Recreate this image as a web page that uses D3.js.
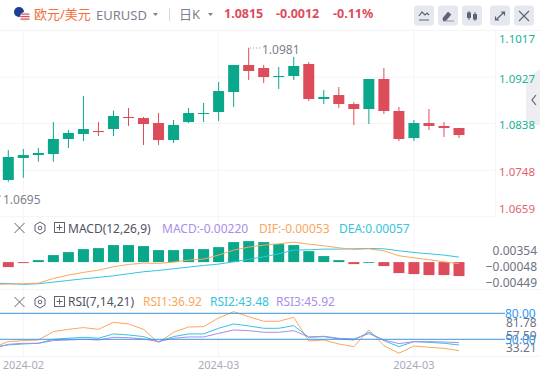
<!DOCTYPE html>
<html>
<head>
<meta charset="utf-8">
<script src="https://cdnjs.cloudflare.com/ajax/libs/d3/7.8.5/d3.min.js"></script>
<style>
html, body { margin: 0; padding: 0; background: #fff; overflow: hidden; }
text { font-family: "Noto Sans", "Noto Sans CJK SC", sans-serif; }
</style>
</head>
<body>
<svg id="chart" width="540" height="375"></svg>
<script>
const opens  = [1.07295,1.07718,1.07775,1.07794,1.08083,1.08179,1.08237,1.08275,1.08506,1.08486,1.08390,1.08063,1.08409,1.08563,1.08602,1.08986,1.09505,1.09447,1.09274,1.09294,1.09524,1.08852,1.08928,1.08755,1.08659,1.09236,1.08621,1.08102,1.08390,1.08333,1.08294];
const highs  = [1.07871,1.07891,1.07910,1.08409,1.08256,1.08909,1.08409,1.08630,1.08679,1.08506,1.08582,1.08448,1.08679,1.08775,1.09178,1.09505,1.09837,1.09505,1.09467,1.09659,1.09563,1.09024,1.09082,1.08794,1.09236,1.09447,1.08698,1.08448,1.08659,1.08409,1.08294];
const lows   = [1.07262,1.07339,1.07646,1.07646,1.07910,1.08044,1.08140,1.08140,1.08333,1.07967,1.07967,1.08006,1.08390,1.08409,1.08429,1.08698,1.09217,1.09159,1.09044,1.09217,1.08813,1.08755,1.08679,1.08352,1.08371,1.08563,1.08044,1.08044,1.08256,1.08121,1.08102];
const closes = [1.07737,1.07775,1.07814,1.08083,1.08198,1.08275,1.08217,1.08525,1.08486,1.08371,1.08063,1.08352,1.08582,1.08582,1.09005,1.09505,1.09390,1.09274,1.09294,1.09486,1.08852,1.08890,1.08755,1.08659,1.09236,1.08621,1.08083,1.08390,1.08333,1.08294,1.08160];

const macdBars = [-0.00125,-0.00025,0.0005,0.00176,0.00251,0.00326,0.00351,0.00427,0.00427,0.00402,0.00301,0.00301,0.00326,0.00326,0.00376,0.00502,0.00527,0.00502,0.00452,0.00427,0.00276,0.00151,0.0005,-0.0005,-0.0002,-0.001,-0.00276,-0.00301,-0.00326,-0.00326,-0.00351];
// line series start one candle left of the visible window
const difLine = [-0.0056,-0.00552,-0.00543,-0.00527,-0.0041,-0.00326,-0.00259,-0.00201,-0.00117,-0.00059,-0.00025,-0.00033,0,0.0005,0.00075,0.00176,0.00301,0.00376,0.00426,0.0046,0.00502,0.00451,0.0041,0.00359,0.00318,0.00334,0.00284,0.00159,0.00109,0.00059,0.00008,-0.00042];
const deaLine = [-0.0053,-0.00535,-0.0056,-0.00543,-0.00502,-0.0046,-0.00418,-0.00385,-0.00343,-0.00293,-0.00242,-0.00209,-0.00167,-0.00125,-0.00084,-0.0005,0.00008,0.00067,0.00134,0.00209,0.00301,0.00309,0.00326,0.00326,0.00334,0.00343,0.00334,0.00284,0.00242,0.00209,0.00176,0.00125];

const rsi1 = [40.8,47.3,48.5,49.2,58.8,61.5,63.5,61.5,69.6,67.7,61.5,46.2,58.1,64.2,64.6,74.6,81.9,76.1,70.8,70.8,75.4,48.1,49.2,44.6,41.5,60.8,42.7,33.9,42.3,40.8,39.6,36.9];
const rsi2 = [40.8,43.5,44.6,45.4,50,51.2,52.3,51.2,56.2,55,53.1,47.3,53.1,56.2,56.2,62.7,67.7,65.4,62.7,62.7,65.8,52.3,53.1,50.4,49.2,58.1,48.5,41.5,47.3,46.5,45.4,43.5];
const rsi3 = [39.6,44.2,45.4,45.4,48.5,49.2,50,49.2,52.3,51.9,50.4,47.3,51.2,52.7,52.7,56.9,60.8,60,58.1,58.1,60,52.7,53.5,51.2,50.4,56.5,49.2,45,47.3,47.3,46.9,46.2];

const priceTicks = [1.1017, 1.0927, 1.0838, 1.0748, 1.0659];
const macdTicks = [0.00354, -0.00048, -0.00449];
const rsiTicks = [81.78, 57.59, 33.21];
const rsiLevels = [80, 50];
const dateTicks = [[1, "2024-02"], [14, "2024-03"], [27, "2024-03"]];

const GREEN = "#0aa78b", RED = "#dd4c5b", GRID = "#f3f4f7";
const ORANGE = "#f9a860", CYAN = "#35c4de", PURPLE = "#a98ee8", BLUE = "#3b96e0", GRAY = "#7c7f8e";
// first and last price labels are pushed inside the panel
const priceLabelShift = [8, 1.5, 1, 1, -8];

const svg = d3.select("#chart");

const x = d3.scaleLinear().domain([0, 30]).range([8.3, 459]);
const yPrice = d3.scaleLinear().domain([1.0659, 1.1017]).range([216.7, 30.4]);
const yMacd = d3.scaleLinear().domain([-0.00449, 0.00354]).range([280, 248]);
const yRsi = d3.scaleLinear().domain([50, 80]).range([339.3, 313.3]);
const yRsiAxis = d3.scaleLinear().domain([33.21, 81.78]).range([348, 323]);

// grid
const grid = svg.append("g").attr("stroke", GRID).attr("stroke-width", 1);
dateTicks.forEach(d => {
    grid.append("line").attr("x1", x(d[0])).attr("x2", x(d[0])).attr("y1", 31).attr("y2", 356);
});
priceTicks.forEach(d => {
    grid.append("line").attr("x1", 0).attr("x2", 495).attr("y1", yPrice(d)).attr("y2", yPrice(d));
});
grid.append("line").attr("x1", 0).attr("x2", 540).attr("y1", 30.5).attr("y2", 30.5);
grid.append("line").attr("x1", 495.5).attr("x2", 495.5).attr("y1", 31).attr("y2", 217);
grid.append("line").attr("x1", 0).attr("x2", 540).attr("y1", 289.5).attr("y2", 289.5);
grid.append("line").attr("x1", 0).attr("x2", 540).attr("y1", 356.5).attr("y2", 356.5);

// side tab
svg.append("path").attr("d", "M540 69l-14 10v46h14z").attr("fill", "#eeeef2");
svg.append("path").attr("d", "M536 95l-4 5 4 5").attr("fill", "none").attr("stroke", "#5f6272").attr("stroke-width", 1.2);

// candles
const candles = svg.append("g");
opens.forEach((o, i) => {
    let c = closes[i];
    let col = c >= o ? GREEN : RED;
    candles.append("line")
        .attr("x1", x(i)).attr("x2", x(i))
        .attr("y1", yPrice(highs[i])).attr("y2", yPrice(lows[i]))
        .attr("stroke", col).attr("stroke-width", 1);
    candles.append("rect")
        .attr("x", x(i) - 5.5).attr("width", 11)
        .attr("y", yPrice(Math.max(o, c)))
        .attr("height", Math.max(1, Math.abs(yPrice(o) - yPrice(c))))
        .attr("fill", col);
});

// price axis
const priceAxis = d3.axisRight(yPrice).tickValues(priceTicks).tickFormat(d3.format(".4f")).tickSize(0);
svg.append("g").attr("transform", "translate(499,0)").call(priceAxis)
    .call(g => g.select(".domain").remove())
    .selectAll("text")
    .attr("x", 0).attr("y", (d, i) => priceLabelShift[i])
    .attr("font-size", 11.5)
    .attr("fill", d => d > 1.08 ? "#1bb199" : "#e2616f");

// high / low markers
svg.append("text").attr("x", 262).attr("y", 54).attr("font-size", 12).attr("fill", GRAY).text("1.0981");
svg.append("line").attr("x1", 250).attr("x2", 260).attr("y1", 48).attr("y2", 48)
    .attr("stroke", "#9a9daa").attr("stroke-dasharray", "1 2");
svg.append("text").attr("x", 3).attr("y", 204).attr("font-size", 12).attr("fill", GRAY).text("1.0695");
svg.append("line").attr("x1", 0).attr("x2", 3).attr("y1", 196).attr("y2", 196)
    .attr("stroke", "#9a9daa").attr("stroke-dasharray", "1 2");

// macd
macdBars.forEach((v, i) => {
    let col = i == 24 ? GREEN : (v >= 0 ? GREEN : RED);
    svg.append("rect")
        .attr("x", x(i) - 5.5).attr("width", 11)
        .attr("y", Math.min(yMacd(v), yMacd(0)))
        .attr("height", Math.abs(yMacd(v) - yMacd(0)))
        .attr("fill", col);
});
const macdLine = d3.line().x((d, i) => x(i - 1)).y(d => yMacd(d));
svg.append("path").attr("d", macdLine(deaLine)).attr("fill", "none").attr("stroke", CYAN).attr("stroke-width", 1);
svg.append("path").attr("d", macdLine(difLine)).attr("fill", "none").attr("stroke", ORANGE).attr("stroke-width", 1);

const macdAxis = d3.axisRight(yMacd).tickValues(macdTicks).tickFormat(d3.format(".5f")).tickSize(0);
svg.append("g").attr("transform", "translate(537,0)").call(macdAxis)
    .call(g => g.select(".domain").remove())
    .selectAll("text")
    .attr("x", 0).attr("dy", "0.5em")
    .attr("text-anchor", "end")
    .attr("font-size", 12)
    .attr("fill", "#6f7282");

// rsi
const rsiLine = d3.line().x((d, i) => x(i - 1)).y(d => yRsi(d));
svg.append("path").attr("d", rsiLine(rsi1)).attr("fill", "none").attr("stroke", ORANGE).attr("stroke-width", 1);
svg.append("path").attr("d", rsiLine(rsi2)).attr("fill", "none").attr("stroke", CYAN).attr("stroke-width", 1);
svg.append("path").attr("d", rsiLine(rsi3)).attr("fill", "none").attr("stroke", PURPLE).attr("stroke-width", 1);

const rsiAxis = d3.axisRight(yRsiAxis).tickValues(rsiTicks).tickFormat(d3.format(".2f")).tickSize(0);
svg.append("g").attr("transform", "translate(506,0)").call(rsiAxis)
    .call(g => g.select(".domain").remove())
    .selectAll("text")
    .attr("x", 0).attr("font-size", 12).attr("fill", "#6f7282");

rsiLevels.forEach(d => {
    svg.append("line").attr("x1", 0).attr("x2", 505)
        .attr("y1", yRsi(d)).attr("y2", yRsi(d))
        .attr("stroke", BLUE).attr("stroke-width", 1);
    svg.append("text").attr("x", 505).attr("y", yRsi(d) + 4.5)
        .attr("font-size", 12).attr("fill", "#2f97ee").text(d.toFixed(2));
});

// date labels
dateTicks.forEach(d => {
    svg.append("text").attr("x", x(d[0])).attr("y", 368.5)
        .attr("text-anchor", "middle").attr("font-size", 11).attr("fill", "#a8abb8").text(d[1]);
});

// header
function label(px, py, str, col, size, weight) {
    return svg.append("text").attr("x", px).attr("y", py)
        .attr("font-size", size).attr("fill", col)
        .attr("font-weight", weight || "normal").text(str);
}
svg.append("circle").attr("cx", 19).attr("cy", 12).attr("r", 5).attr("fill", "#1c3f94");
svg.append("circle").attr("cx", 25).attr("cy", 17).attr("r", 5).attr("fill", "#f3f3f6");
d3.range(3).forEach(i => {
    svg.append("rect").attr("x", 20.5).attr("y", 13.5 + i * 2.5).attr("width", 9).attr("height", 1.2).attr("fill", "#d9505c");
});
label(34, 19, "欧元/美元", "#f2703d", 13);
label(96, 20, "EURUSD", GRAY, 13);
svg.append("path").attr("d", "M153 13h5l-2.5 3z").attr("fill", GRAY);
svg.append("line").attr("x1", 169.5).attr("x2", 169.5).attr("y1", 8).attr("y2", 21).attr("stroke", "#d8dae2");
label(179, 19, "日K", GRAY, 13);
svg.append("path").attr("d", "M208 13h5l-2.5 3z").attr("fill", GRAY);
label(224, 18, "1.0815", RED, 12.5, "bold");
label(276, 18, "-0.0012", RED, 12.5, "bold");
label(333, 18, "-0.11%", RED, 12.5, "bold");

// toolbar buttons
const btnX = [414, 438, 462, 490, 514];
btnX.forEach(b => {
    svg.append("rect").attr("x", b).attr("y", 5.5).attr("width", 20).attr("height", 20).attr("rx", 3).attr("fill", "#e6e8f0");
});
svg.append("path").attr("d", "M419 16l3-4 3 3 2 -2 2 2M419 20h10").attr("fill", "none").attr("stroke", "#5f6272").attr("stroke-width", 1.2);
svg.append("path").attr("d", "M443 18l5-6 3 2.5-5 6h-3zM443 21h11").attr("fill", "#5f6272").attr("stroke", "#5f6272").attr("stroke-width", 0.6);
svg.append("path").attr("d", "M469 11v9M475 12v9").attr("stroke", "#5f6272");
svg.append("rect").attr("x", 467).attr("y", 12.5).attr("width", 4).attr("height", 5.5).attr("fill", "#5f6272");
svg.append("rect").attr("x", 473).attr("y", 14).attr("width", 4).attr("height", 5.5).attr("fill", "#5f6272");
svg.append("path").attr("d", "M496 20l8-8M501 12h3.5v3.5M499 20h-3.5v-3.5").attr("fill", "none").attr("stroke", "#5f6272").attr("stroke-width", 1.2);
svg.append("path").attr("d", "M519 11l10 10M529 11l-10 10").attr("stroke", "#5f6272").attr("stroke-width", 1.2);

// panel headers
function panelIcons(py) {
    svg.append("path").attr("d", `M14.5 ${py - 5}l10 10M24.5 ${py - 5}l-10 10`).attr("stroke", "#5f6272").attr("fill", "none");
    svg.append("path").attr("d", `M40 ${py - 6}l5 3v6l-5 3-5-3v-6z`).attr("stroke", "#5f6272").attr("fill", "none");
    svg.append("circle").attr("cx", 40).attr("cy", py).attr("r", 1.8).attr("stroke", "#5f6272").attr("fill", "none");
    svg.append("rect").attr("x", 54.5).attr("y", py - 5.5).attr("width", 10).attr("height", 10).attr("stroke", "#5f6272").attr("fill", "none");
    svg.append("path").attr("d", `M56.5 ${py - 0.5}h6M59.5 ${py - 3.5}v6`).attr("stroke", "#5f6272").attr("fill", "none");
}
panelIcons(228);
label(68, 233, "MACD(12,26,9)", "#4f5261", 12);
label(162, 233, "MACD:-0.00220", PURPLE, 12);
label(259, 233, "DIF:-0.00053", ORANGE, 12);
label(339, 233, "DEA:0.00057", CYAN, 12);

panelIcons(302);
label(68, 306, "RSI(7,14,21)", "#4f5261", 12);
label(143, 306, "RSI1:36.92", ORANGE, 12);
label(210, 306, "RSI2:43.48", CYAN, 12);
label(276, 306, "RSI3:45.92", PURPLE, 12);
</script>
</body>
</html>
